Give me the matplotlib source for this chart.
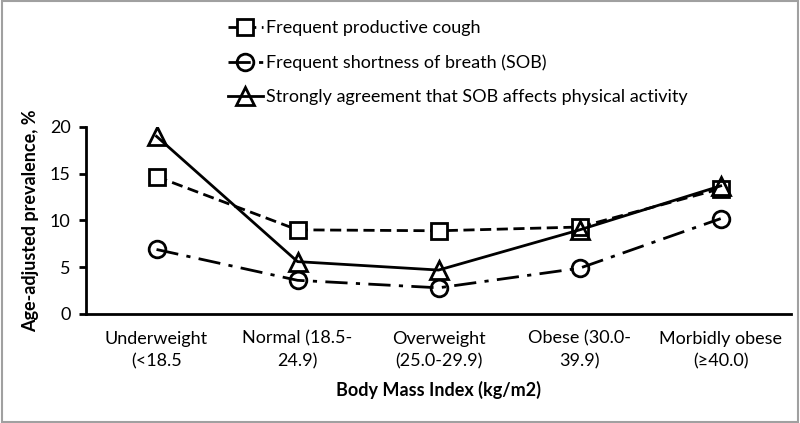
import matplotlib.pyplot as plt
from matplotlib.patches import Rectangle

plt.rcParams['font.family'] = ['Lato', 'DejaVu Sans']

categories = ['Underweight\n(<18.5', 'Normal (18.5-\n24.9)', 'Overweight\n(25.0-29.9)',
              'Obese (30.0-\n39.9)', 'Morbidly obese\n(≥40.0)']
cough = [14.7, 9.0, 8.9, 9.3, 13.4]
sob = [6.9, 3.6, 2.8, 4.9, 10.2]
activity = [19.0, 5.6, 4.7, 9.0, 13.7]
labels = ['Frequent productive cough', 'Frequent shortness of breath (SOB)',
          'Strongly agreement that SOB affects physical activity']

fig = plt.figure(figsize=(8, 4.23), dpi=100)
ax = fig.add_axes([0.1075, 0.2577, 0.8815, 0.4421])
x = range(len(categories))

ax.plot(x, cough, ls=(0, (4, 2)), color='black', lw=2, marker='s', ms=12,
        mfc='white', mec='black', mew=2, label=labels[0])
ax.plot(x, sob, ls=(0, (8, 3, 1.5, 3)), color='black', lw=2, marker='o', ms=12,
        mfc='none', mec='black', mew=2, label=labels[1])
ax.plot(x, activity, ls='-', color='black', lw=2, marker='^', ms=13,
        mfc='none', mec='black', mew=2, label=labels[2])

ax.set_xlim(-0.5, 4.5)
ax.set_ylim(0, 20)
ax.set_yticks([0, 5, 10, 15, 20])
ax.set_xticks(list(x))
ax.set_xticklabels(categories, fontsize=13, linespacing=1.5)
ax.tick_params(axis='x', length=0, pad=12)
ax.tick_params(axis='y', labelsize=13, width=2, length=5, direction='out', pad=6)
for s in ['top', 'right']:
    ax.spines[s].set_visible(False)
for s in ['left', 'bottom']:
    ax.spines[s].set_linewidth(2)

ax.set_xlabel('Body Mass Index (kg/m2)', fontsize=13, fontweight='bold', labelpad=8)
ax.set_ylabel('Age-adjusted prevalence, %', fontsize=13, fontweight='bold', labelpad=8)

fig.legend(loc='upper left', bbox_to_anchor=(0.265, 0.99), frameon=False, fontsize=13,
           handlelength=1.9, labelspacing=1.0, handletextpad=0.2)

fig.patches.append(Rectangle((0.002, 0.002), 0.996, 0.996, transform=fig.transFigure,
                             fill=False, edgecolor='#a0a0a0', lw=1.5))

fig.savefig('out.png', dpi=100)
